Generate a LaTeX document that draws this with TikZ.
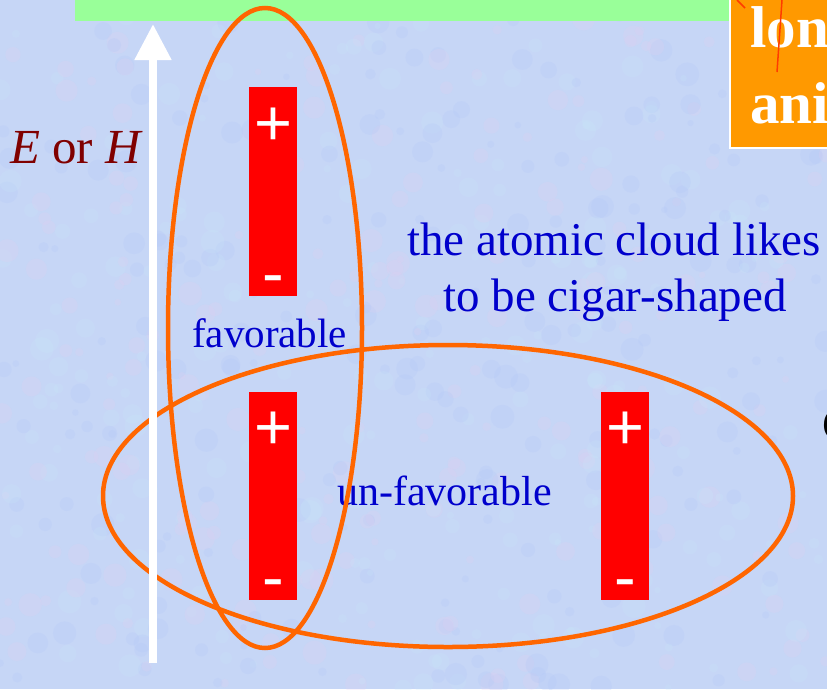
\documentclass[tikz,border=0pt]{standalone}
\usepackage{fontspec}
\setmainfont{Liberation Serif}
\newfontfamily\signfont{Liberation Sans}
\usetikzlibrary{arrows.meta,shapes.geometric}
\definecolor{bgc}{RGB}{198,214,246}
\definecolor{bgpink}{RGB}{226,206,240}
\definecolor{bgblue}{RGB}{176,198,246}
\definecolor{bgcyan}{RGB}{200,232,250}
\definecolor{topgreen}{RGB}{153,255,153}
\definecolor{boxorange}{RGB}{255,153,0}
\definecolor{ellorange}{RGB}{255,102,0}
\definecolor{txtblue}{RGB}{0,0,204}
\definecolor{txtred}{RGB}{128,0,0}
\definecolor{penred}{RGB}{255,60,0}
\tikzset{
  barbox/.style={fill=red, draw=none, minimum width=48pt, inner sep=0pt, outer sep=0pt},
  signtxt/.style={text=white, inner sep=0pt, anchor=base, font=\signfont\fontsize{65}{65}\selectfont},
  bluetxt/.style={text=txtblue, inner sep=0pt, anchor=base west},
  cloudell/.style={ellipse, draw=ellorange, line width=4.5pt, inner sep=0pt, outer sep=0pt},
  fieldarrow/.style={draw=white, line width=8pt, -{Triangle[length=36pt,width=35pt]}},
  boxtxt/.style={text=white, inner sep=0pt, anchor=base west, font=\bfseries\fontsize{59}{59}\selectfont}
}
\begin{document}
\begin{tikzpicture}[x=1pt,y=-1pt]
\useasboundingbox (0,0) rectangle (827,689);
\clip (0,0) rectangle (827,689);
\fill[bgc] (0,0) rectangle (827,689);
\pgfmathsetseed{7}
\foreach \i in {1,...,700} {
  \pgfmathsetmacro{\px}{rnd*827}
  \pgfmathsetmacro{\py}{rnd*689}
  \pgfmathsetmacro{\pr}{3+rnd*9}
  \pgfmathtruncatemacro{\pc}{mod(\i,3)}
  \ifcase\pc
    \fill[bgpink, opacity=0.22] (\px,\py) circle[radius=\pr pt];
  \or
    \fill[bgblue, opacity=0.22] (\px,\py) circle[radius=\pr pt];
  \else
    \fill[bgcyan, opacity=0.22] (\px,\py) circle[radius=\pr pt];
  \fi
}
% top green band and orange title box
\fill[topgreen] (75,-2) rectangle (730,21);
\fill[boxorange] (730,-2) rectangle (840,148);
\draw[white, line width=2pt] (730,-2) -- (730,148) -- (840,148);
\node[boxtxt] (titleA) at (750,47) {lon};
\node[boxtxt] (titleB) at (750,123) {ani};
\draw[penred, line width=1.5pt] (737,0) -- (745,8);
\draw[penred, line width=1.5pt] (782,0) -- (777,72);
% partially visible letter at right edge
\node[text=black, inner sep=0pt, anchor=base west, font=\fontsize{47}{47}\selectfont] (edgechar) at (822,440) {C};
% label E or H
\node[text=txtred, inner sep=0pt, anchor=base west, font=\fontsize{49}{49}\selectfont] (field) at (10,163) {\textit{E} or \textit{H}};
% dipole bars
\node[barbox, minimum height=209pt] (barA) at (273,191.5) {};
\node[barbox, minimum height=208pt] (barB) at (273,496) {};
\node[barbox, minimum height=208pt] (barC) at (625,496) {};
\node[signtxt] (plusA) at (273,145) {+};
\node[signtxt] (minusA) at (273,295) {-};
\node[signtxt] (plusB) at (273,449) {+};
\node[signtxt] (minusB) at (273,599) {-};
\node[signtxt] (plusC) at (625,449) {+};
\node[signtxt] (minusC) at (625,599) {-};
% texts
\node[text=txtblue, inner sep=0pt, anchor=base, font=\fontsize{47}{47}\selectfont] (likeA) at (614,255) {the atomic cloud likes};
\node[text=txtblue, inner sep=0pt, anchor=base, font=\fontsize{47}{47}\selectfont] (likeB) at (615,311) {to be cigar-shaped};
\node[bluetxt, font=\fontsize{41}{41}\selectfont] (fav) at (192,347) {favorable};
\node[bluetxt, font=\fontsize{42}{42}\selectfont] (unfav) at (337,505) {un-favorable};
% ellipses
\node[cloudell, minimum width=194pt, minimum height=640pt] (ellV) at (265,328) {};
\node[cloudell, minimum width=690pt, minimum height=302pt] (ellH) at (448,496) {};
% field arrow
\coordinate (arrTail) at (153,663);
\coordinate (arrTip) at (153,24);
\draw[fieldarrow] (arrTail) -- (arrTip);
\end{tikzpicture}
\end{document}
